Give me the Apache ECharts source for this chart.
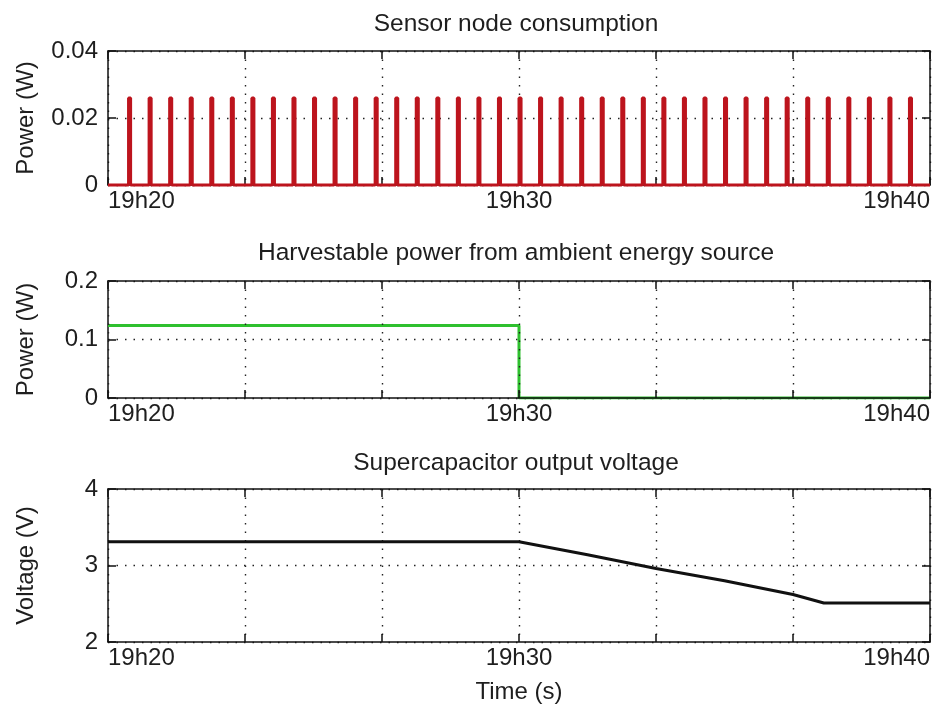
<!DOCTYPE html>
<html><head><meta charset="utf-8">
<script src="https://cdn.jsdelivr.net/npm/echarts@6/dist/echarts.min.js"></script>
<style>html,body{margin:0;padding:0;background:#fff}#c{width:948px;height:711px}</style>
</head><body><div id="c"></div>
<script>
// ---- time axis (seconds after 19h20) ----
const timeMin = 0, timeMax = 1200, timeTickStep = 200;
const timeLabelValues = [0, 600, 1200];
const timeLabelTexts = ['19h20', '19h30', '19h40'];

// ---- panel 1: sensor node consumption (pulses) ----
const pulseTimes = [30, 60, 90, 120, 150, 180, 210, 240, 270, 300, 330, 360, 390, 420, 450, 480, 510, 540, 570, 600,
  630, 660, 690, 720, 750, 780, 810, 840, 870, 900, 930, 960, 990, 1020, 1050, 1080, 1110, 1140, 1170];
const pulsePower = [0.026, 0.026, 0.026, 0.026, 0.026, 0.026, 0.026, 0.026, 0.026, 0.026, 0.026, 0.026, 0.026,
  0.026, 0.026, 0.026, 0.026, 0.026, 0.026, 0.026, 0.026, 0.026, 0.026, 0.026, 0.026, 0.026, 0.026, 0.026,
  0.026, 0.026, 0.026, 0.026, 0.026, 0.026, 0.026, 0.026, 0.026, 0.026, 0.026];
const pulseDuration = 3;
const sensorTicks = { min: 0, max: 0.04, interval: 0.02 };

// ---- panel 2: harvestable power ----
const harvestTimes = [0, 600, 600, 1200];
const harvestPower = [0.124, 0.124, 0, 0];
const harvestTicks = { min: 0, max: 0.2, interval: 0.1 };

// ---- panel 3: supercapacitor voltage ----
const voltageTimes = [0, 600, 700, 800, 900, 1000, 1045, 1200];
const voltageValues = [3.31, 3.31, 3.14, 2.96, 2.80, 2.62, 2.51, 2.51];
const voltageTicks = { min: 2, max: 4, interval: 1 };

const titles = ['Sensor node consumption', 'Harvestable power from ambient energy source', 'Supercapacitor output voltage'];
const yNames = ['Power (W)', 'Power (W)', 'Voltage (V)'];

// ---- build ----
const FONT = '"Liberation Sans", Arial, Helvetica, sans-serif';
const TXT = '#1e1e1e';
const FRAME = '#111';
const grids = [
  { left: 108, top: 51, width: 822, height: 134 },
  { left: 108, top: 281, width: 822, height: 117 },
  { left: 108, top: 489, width: 822, height: 153 }
];
const titleTops = [12, 241, 451];
const yTicks = [sensorTicks, harvestTicks, voltageTicks];

const sensorData = [[timeMin, 0]];
pulseTimes.forEach((t, i) => {
  sensorData.push([t, 0], [t, pulsePower[i]], [t + pulseDuration, pulsePower[i]], [t + pulseDuration, 0]);
});
sensorData.push([timeMax, 0]);
const harvestData = harvestTimes.map((t, i) => [t, harvestPower[i]]);
const voltageData = voltageTimes.map((t, i) => [t, voltageValues[i]]);

const dotted = { color: '#222', width: 1.4, type: [1.5, 7] };
const frameLine = { show: true, onZero: false, lineStyle: { color: FRAME, width: 1.5 } };
const tick = { show: true, inside: true, length: 8, lineStyle: { color: FRAME, width: 1.5 } };

const xAxis = [], yAxis = [];
grids.forEach((g, gi) => {
  xAxis.push({
    gridIndex: gi, type: 'value', position: 'bottom', min: timeMin, max: timeMax, interval: timeTickStep,
    axisLine: frameLine, axisTick: tick, z: gi === 1 ? 5 : 0,
    axisLabel: {
      margin: 4, fontSize: 24, color: TXT, fontFamily: FONT, showMinLabel: true, showMaxLabel: true,
      alignMinLabel: 'left', alignMaxLabel: 'right',
      formatter: v => { const k = timeLabelValues.indexOf(Math.round(v)); return k >= 0 ? timeLabelTexts[k] : ''; }
    },
    splitLine: { show: true, lineStyle: dotted },
    name: gi === 2 ? 'Time (s)' : '', nameLocation: 'middle', nameGap: 38,
    nameTextStyle: { fontSize: 24, color: TXT, fontFamily: FONT }
  });
  xAxis.push({
    gridIndex: gi, type: 'value', position: 'top', min: timeMin, max: timeMax, interval: timeTickStep,
    axisLine: frameLine, axisTick: tick, axisLabel: { show: false }, splitLine: { show: false }
  });
  const yt = yTicks[gi];
  yAxis.push({
    gridIndex: gi, type: 'value', position: 'left', min: yt.min, max: yt.max, interval: yt.interval,
    axisLine: frameLine, axisTick: tick,
    axisLabel: { margin: 10, fontSize: 24, color: TXT, fontFamily: FONT, showMinLabel: true, showMaxLabel: true },
    splitLine: { show: true, lineStyle: dotted },
    name: yNames[gi], nameLocation: 'middle', nameGap: 70, nameRotate: 90,
    nameTextStyle: { fontSize: 24, color: TXT, fontFamily: FONT }
  });
  yAxis.push({
    gridIndex: gi, type: 'value', position: 'right', min: yt.min, max: yt.max, interval: yt.interval,
    axisLine: frameLine, axisTick: tick, axisLabel: { show: false }, splitLine: { show: false }
  });
});

const option = {
  backgroundColor: '#fff',
  animation: false,
  title: titles.map((t, i) => ({
    text: t, left: 516, top: titleTops[i], textAlign: 'center', padding: 0,
    textStyle: { fontSize: 24.5, fontWeight: 'normal', color: TXT, fontFamily: FONT }
  })),
  grid: grids.map(g => Object.assign({ outerBoundsMode: 'none' }, g)),
  xAxis, yAxis,
  series: [
    { type: 'line', xAxisIndex: 0, yAxisIndex: 0, data: sensorData, showSymbol: false, clip: false,
      lineStyle: { color: '#bd141d', width: 3 }, z: 3 },
    { type: 'line', xAxisIndex: 2, yAxisIndex: 2, data: harvestData, showSymbol: false,
      lineStyle: { color: '#2ec02e', width: 3 }, z: 3 },
    { type: 'line', xAxisIndex: 4, yAxisIndex: 4, data: voltageData, showSymbol: false,
      lineStyle: { color: '#111', width: 3 }, z: 3 }
  ]
};
const chart = echarts.init(document.getElementById('c'), null, { renderer: 'canvas' });
chart.setOption(option);
</script>
</body></html>
